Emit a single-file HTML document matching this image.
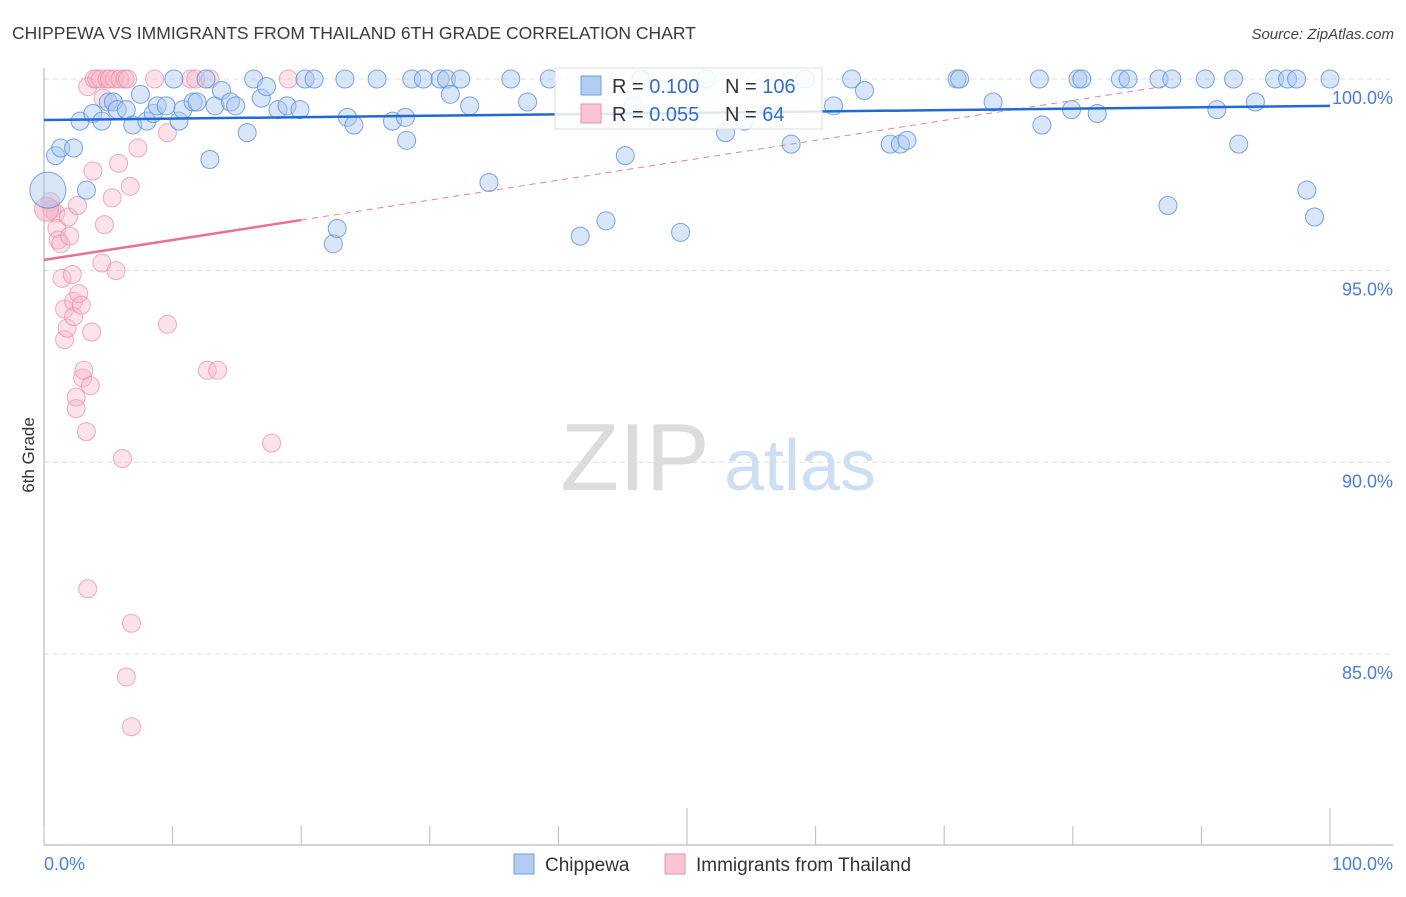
<!DOCTYPE html>
<html><head><meta charset="utf-8"><style>
body{margin:0;background:#fff;font-family:"Liberation Sans",sans-serif;}
svg text{font-family:"Liberation Sans",sans-serif;}
</style></head><body>
<svg id="chart" width="1406" height="892" viewBox="0 0 1406 892" xmlns="http://www.w3.org/2000/svg">
<text x="12" y="39" font-size="17.5" fill="#3a3a3a">CHIPPEWA VS IMMIGRANTS FROM THAILAND 6TH GRADE CORRELATION CHART</text>
<text x="1394" y="39" font-size="15" fill="#444" text-anchor="end" font-style="italic">Source: ZipAtlas.com</text>
<text transform="translate(34,455) rotate(-90)" font-size="17" fill="#333" text-anchor="middle">6th Grade</text>
<g>
<text x="635" y="490" font-size="96" fill="#dcdcdc" font-family="Liberation Serif" text-anchor="middle">ZIP</text>
<text x="800" y="490" font-size="72" fill="#cfdff3" text-anchor="middle">atlas</text>
</g>
<g id="grid"></g>
<g id="axes"></g>
<g id="marks"></g>
<g id="legend-box">
<rect x="555" y="68" width="267" height="61" fill="#fff" fill-opacity="0.85" stroke="#ddd"/>
<rect x="581" y="76" width="20" height="19" fill="#b3cdf2" stroke="#6f9ee0"/>
<rect x="581" y="104" width="20" height="19" fill="#f8c4d3" stroke="#e993ad"/>
<text x="612" y="93" font-size="20" fill="#333">R = <tspan fill="#2f6fd0">0.100</tspan></text>
<text x="725" y="93" font-size="20" fill="#333">N = <tspan fill="#2f6fd0">106</tspan></text>
<text x="612" y="121" font-size="20" fill="#333">R = <tspan fill="#2f6fd0">0.055</tspan></text>
<text x="725" y="121" font-size="20" fill="#333">N = <tspan fill="#2f6fd0"> 64</tspan></text>
</g>
<g>
<rect x="514" y="854" width="20" height="20" fill="#b3cdf2" stroke="#6f9ee0"/>
<text x="545" y="871" font-size="19" fill="#333">Chippewa</text>
<rect x="665" y="854" width="20" height="20" fill="#f8c4d3" stroke="#e993ad"/>
<text x="696" y="871" font-size="19" fill="#333">Immigrants from Thailand</text>
</g>
</svg>
<script>
const blueX=[0.9,1.3,2.3,2.8,3.3,3.8,4.5,5.0,5.4,5.7,6.4,6.9,7.5,8.0,8.5,8.8,9.5,10.1,10.5,10.8,11.6,11.9,12.6,12.9,13.3,13.8,14.5,14.9,15.8,16.3,16.9,17.3,18.2,18.9,19.9,20.3,21.0,22.5,22.8,23.4,23.6,24.1,25.9,27.1,28.1,28.2,28.6,29.5,30.8,31.3,31.6,32.4,33.1,34.6,36.3,37.6,39.3,41.7,43.7,45.2,45.8,46.4,49.5,51.5,53.0,54.5,58.1,59.2,61.4,62.8,63.8,65.8,66.6,67.1,71.0,71.2,73.8,77.4,77.6,79.9,80.4,80.7,81.9,83.7,84.3,86.7,87.4,87.7,90.3,91.2,92.5,92.9,94.2,95.7,96.7,97.4,98.2,98.8,100];
const blueY=[98.0,98.2,98.2,98.9,97.1,99.1,98.9,99.4,99.4,99.2,99.2,98.8,99.6,98.9,99.1,99.3,99.3,100,98.9,99.2,99.4,99.4,100,97.9,99.3,99.7,99.4,99.3,98.6,100,99.5,99.8,99.2,99.3,99.2,100,100,95.7,96.1,100,99.0,98.8,100,98.9,99.0,98.4,100,100,100,100,99.6,100,99.3,97.3,100,99.4,100,95.9,96.3,98.0,99.3,100,96.0,100,98.6,98.9,98.3,100,99.3,100,99.7,98.3,98.3,98.4,100,100,99.4,100,98.8,99.2,100,100,99.1,100,100,100,96.7,100,100,99.2,100,98.3,99.4,100,100,100,97.1,96.4,100];
const pinkX=[0.5,0.6,0.9,1.0,1.1,1.3,1.4,1.6,1.6,1.8,1.9,2.0,2.2,2.3,2.3,2.5,2.5,2.6,2.7,2.9,3.0,3.1,3.3,3.4,3.6,3.7,3.8,3.9,4.1,4.4,4.5,4.6,4.7,4.9,5.1,5.3,5.5,5.6,5.8,5.9,6.1,6.3,6.5,6.7,6.8,6.4,6.8,3.4,7.3,8.6,9.6,9.6,11.4,11.8,12.7,12.9,13.5,17.7,19.0,0.2];
const pinkY=[96.8,96.6,96.5,96.1,95.8,95.7,94.8,94.0,93.2,93.5,96.4,95.9,94.9,94.2,93.8,91.7,91.4,96.7,94.4,94.1,92.2,92.4,90.8,99.8,92.0,93.4,97.6,100,100,100,95.2,99.5,96.2,100,100,96.9,100,95.0,97.8,100,90.1,100,100,97.2,85.8,84.4,83.1,86.7,98.2,100,93.6,98.6,100,100,92.4,100,92.4,90.5,100,96.6];
const xTicks=[0,10,20,30,40,50,60,70,80,90,100];
const yTicks=[100,95,90,85];
const yTickLabels=["100.0%","95.0%","90.0%","85.0%"];
const blueTrend=[98.93,99.30];
const pinkTrend=[95.28,96.32];
const pinkTrendEnd=[20,87];

const X=v=>44+v*12.86;
const Y=v=>79+(100-v)*38.33;
const NS="http://www.w3.org/2000/svg";
function mk(parent,tag,attrs){const e=document.createElementNS(NS,tag);for(const k in attrs)e.setAttribute(k,attrs[k]);document.getElementById(parent).appendChild(e);return e;}

yTicks.forEach((t,i)=>{
  const g=mk('grid','line',{x1:44,x2:1393,y1:Y(t),y2:Y(t),stroke:'#ddd','stroke-dasharray':'5,4'});
  
  
  const l=mk('axes','text',{x:1393,y:Y(t)+25,'font-size':18,fill:'#4a7fd6','text-anchor':'end'});
  l.textContent=yTickLabels[i];
  
  
});
let a=mk('axes','line',{x1:44,x2:44,y1:68,y2:845,stroke:'#aaa'});


a=mk('axes','line',{x1:44,x2:1393,y1:845,y2:845,stroke:'#aaa'});


xTicks.forEach(t=>{
  const tall=(t===50||t===100);
  const e=mk('axes','line',{x1:X(t),x2:X(t),y1:tall?808:826,y2:845,stroke:'#bbb'});
  
  
});
let tl=mk('axes','text',{x:44,y:870,'font-size':18,fill:'#4a7fd6'});tl.textContent='0.0%';


tl=mk('axes','text',{x:1393,y:870,'font-size':18,fill:'#4a7fd6','text-anchor':'end'});tl.textContent='100.0%';



pinkX.forEach((x,i)=>{
  const big=i===pinkX.length-1;
  const c=mk('marks','circle',{cx:X(x),cy:Y(pinkY[i]),r:big?12:9,fill:'#f7b6c9','fill-opacity':big?0.6:0.4,stroke:'#e88aa8','stroke-opacity':0.7});
  
  
});
blueX.forEach((x,i)=>{
  const c=mk('marks','circle',{cx:X(x),cy:Y(blueY[i]),r:9,fill:'#a9c7f0','fill-opacity':0.45,stroke:'#5b8fdc','stroke-opacity':0.8});
  
  
});
let big=mk('marks','circle',{cx:X(0.3),cy:Y(97.1),r:18,fill:'#a9c7f0','fill-opacity':0.45,stroke:'#5b8fdc','stroke-opacity':0.8});



const slope=(pinkTrend[1]-pinkTrend[0])/20;
let t=mk('marks','line',{x1:X(pinkTrendEnd[0]),y1:Y(pinkTrend[1]),x2:X(pinkTrendEnd[1]),y2:Y(pinkTrend[0]+slope*pinkTrendEnd[1]),stroke:'#e87fa0','stroke-width':1,'stroke-dasharray':'6,5'});


t=mk('marks','line',{x1:X(0),y1:Y(pinkTrend[0]),x2:X(20),y2:Y(pinkTrend[1]),stroke:'#e8709a','stroke-width':2.5});


t=mk('marks','line',{x1:X(0),y1:Y(blueTrend[0]),x2:X(100),y2:Y(blueTrend[1]),stroke:'#1f6ad6','stroke-width':2.5});


</script>
</body></html>
